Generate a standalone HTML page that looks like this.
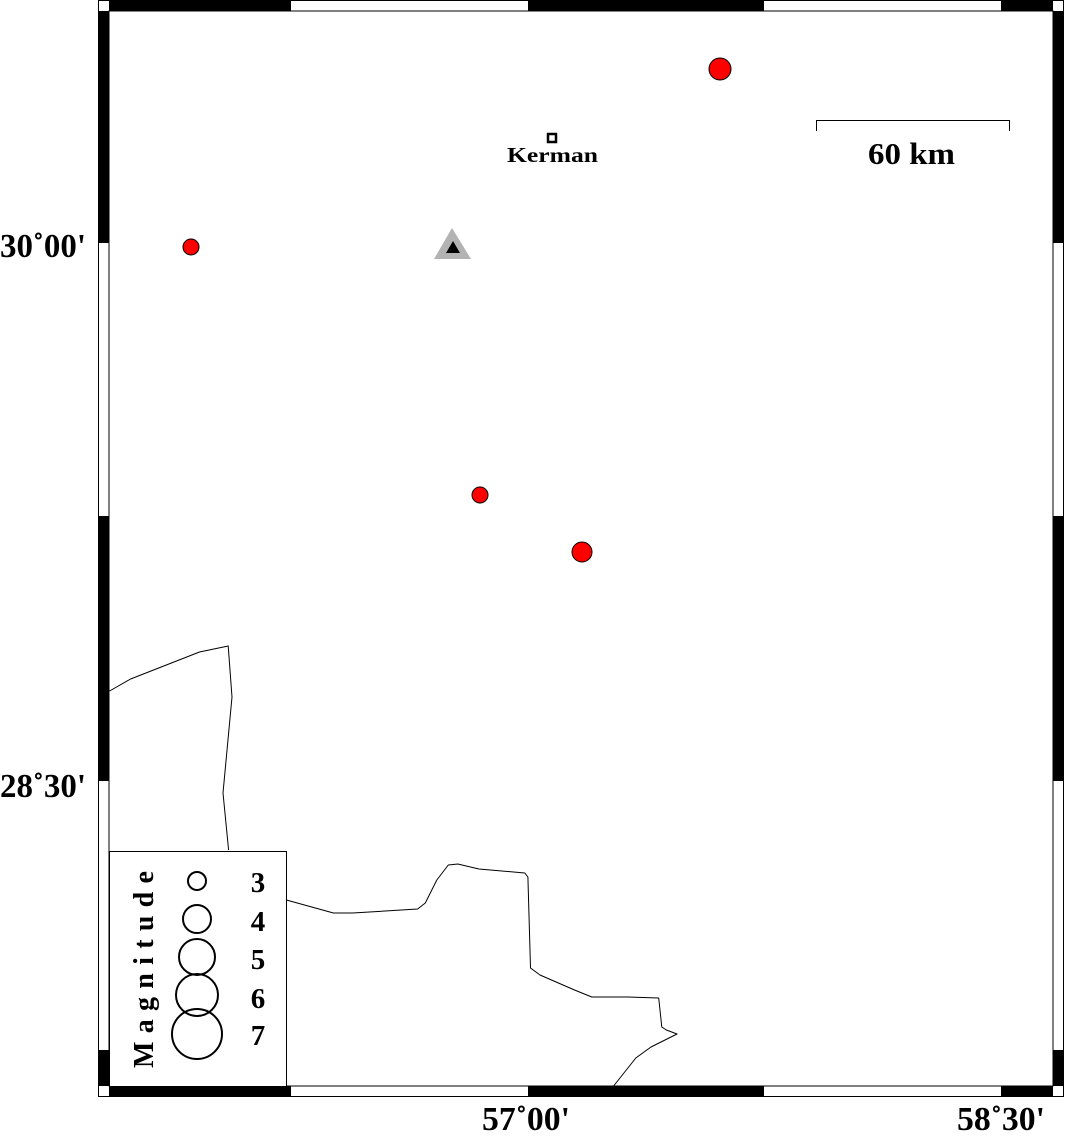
<!DOCTYPE html>
<html><head><meta charset="utf-8"><style>
html,body{margin:0;padding:0;background:#fff;}
svg{display:block;}
text{font-family:"Liberation Serif",serif;font-weight:bold;fill:#000;}
</style></head><body>
<svg width="1066" height="1136" viewBox="0 0 1066 1136" xmlns="http://www.w3.org/2000/svg">
<rect width="1066" height="1136" fill="#fff"/>
<rect x="98.5" y="0.5" width="965" height="1096" fill="none" stroke="#000" stroke-width="1"/>
<rect x="109" y="11" width="944" height="1075" fill="none" stroke="#000" stroke-width="1"/>
<rect x="109" y="0" width="182" height="11" fill="#000"/>
<rect x="528" y="0" width="236" height="11" fill="#000"/>
<rect x="1001" y="0" width="52" height="11" fill="#000"/>
<rect x="109" y="1086" width="182" height="11" fill="#000"/>
<rect x="528" y="1086" width="236" height="11" fill="#000"/>
<rect x="1001" y="1086" width="52" height="11" fill="#000"/>
<rect x="98" y="11" width="11" height="232" fill="#000"/>
<rect x="98" y="516" width="11" height="265" fill="#000"/>
<rect x="98" y="1050" width="11" height="36" fill="#000"/>
<rect x="1053" y="11" width="11" height="232" fill="#000"/>
<rect x="1053" y="516" width="11" height="265" fill="#000"/>
<rect x="1053" y="1050" width="11" height="36" fill="#000"/>

<polyline fill="none" stroke="#000" stroke-width="1" stroke-linejoin="round" points="109.6,691 130.6,679 199.5,652 228.2,646 232,697 223,793 228.6,850"/>
<polyline fill="none" stroke="#000" stroke-width="1" stroke-linejoin="round" points="286.4,900 333.4,913 352.6,913 417.6,909 425.3,903 436.8,880 448.3,865 457.8,864 478.9,869 524.8,873 527.9,877 530.5,968 540,975 574.5,990 591.8,997 628,997 658.7,998 661.8,1027 666.4,1030 677,1034 651,1047 635.8,1058 612.8,1087"/>

<circle cx="720" cy="69" r="11" fill="#f00" stroke="#000" stroke-width="1"/>
<circle cx="191" cy="247" r="8" fill="#f00" stroke="#000" stroke-width="1"/>
<circle cx="480" cy="495" r="8" fill="#f00" stroke="#000" stroke-width="1"/>
<circle cx="582" cy="552" r="10" fill="#f00" stroke="#000" stroke-width="1"/>

<polygon points="452,228 471,259 434,259" fill="#b3b3b3"/>
<polygon points="453,241 460,253 446,253" fill="#000"/>

<rect x="548" y="134" width="8" height="8" fill="#fff" stroke="#000" stroke-width="2.5"/>
<text x="507" y="162" font-size="21" textLength="91" lengthAdjust="spacingAndGlyphs">Kerman</text>

<polyline fill="none" stroke="#000" stroke-width="1" points="816.5,131 816.5,120.5 1009.5,120.5 1009.5,131"/>
<text x="868" y="164" font-size="31" textLength="87" lengthAdjust="spacingAndGlyphs">60 km</text>

<text x="0" y="257" font-size="34" textLength="86" lengthAdjust="spacingAndGlyphs">30˚00'</text>
<text x="0" y="797" font-size="34" textLength="86" lengthAdjust="spacingAndGlyphs">28˚30'</text>
<text x="482" y="1130" font-size="34" textLength="88" lengthAdjust="spacingAndGlyphs">57˚00'</text>
<text x="957" y="1130" font-size="34" textLength="88" lengthAdjust="spacingAndGlyphs">58˚30'</text>

<rect x="109.5" y="851.5" width="177" height="235" fill="#fff" stroke="#000" stroke-width="1"/>
<text transform="translate(153,1068) rotate(-90)" font-size="28" textLength="197" lengthAdjust="spacing">Magnitude</text>
<g fill="none" stroke="#000" stroke-width="2">
<circle cx="197" cy="881" r="9"/>
<circle cx="197" cy="919" r="14"/>
<circle cx="197" cy="957" r="18"/>
<circle cx="197" cy="995" r="21"/>
<circle cx="197" cy="1034" r="25"/>
</g>
<g font-size="29" text-anchor="middle">
<text x="258" y="892">3</text>
<text x="258" y="931">4</text>
<text x="258" y="969">5</text>
<text x="258" y="1008">6</text>
<text x="258" y="1045">7</text>
</g>
</svg>
</body></html>
